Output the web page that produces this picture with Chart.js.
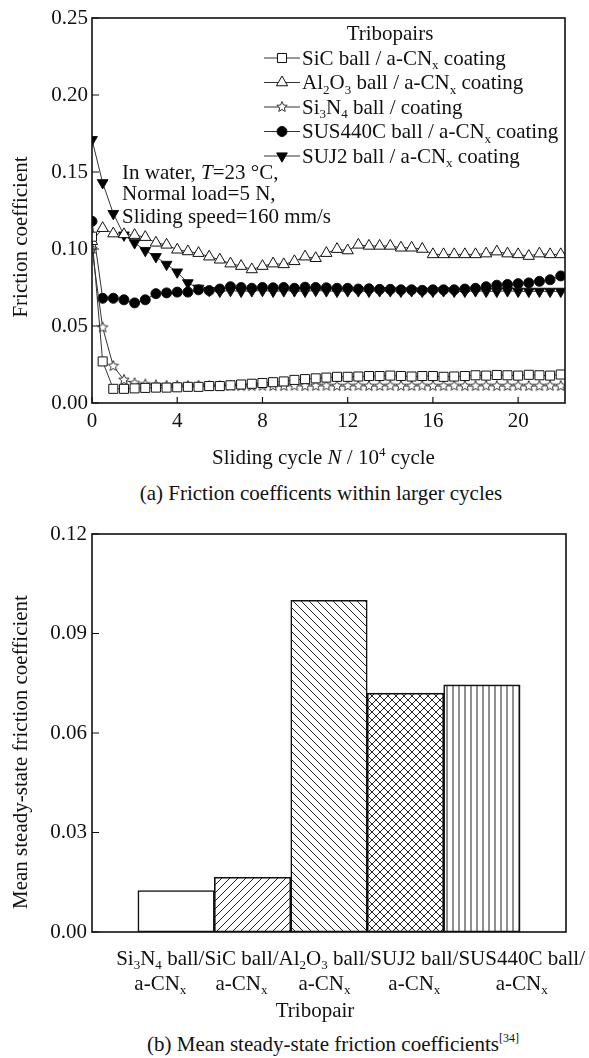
<!DOCTYPE html>
<html>
<head>
<meta charset="utf-8">
<script src="https://cdn.jsdelivr.net/npm/chart.js@4.4.1/dist/chart.umd.min.js"></script>
<style>
  html, body { margin: 0; padding: 0; background: #fff; }
  body { width: 589px; height: 1058px; position: relative; overflow: hidden;
         font-family: "Liberation Serif", "Times New Roman", serif; color: #111; }
  .wrap { position: absolute; left: 0; }
  .cap { position: absolute; left: 0; text-align: center; font-size: 21px; line-height: 24px; white-space: nowrap; }
  .cap sup { font-size: 12px; line-height: 0; vertical-align: 0; position: relative; top: -9px; }
</style>
</head>
<body>
<div class="wrap" style="top:0"><canvas id="fric" width="589" height="470"></canvas></div>
<div class="cap" style="top:481px;width:642px">(a) Friction coefficents within larger cycles</div>
<div class="wrap" style="top:500px"><canvas id="mean" width="589" height="530"></canvas></div>
<div class="cap" style="top:1032px;width:666px">(b) Mean steady-state friction coefficients<sup>[34]</sup></div>

<script>
// ---- (a) friction coefficient vs sliding cycle (x in 10^4 cycles) ----
const cycles = [0, 0.5, 1, 1.5, 2, 2.5, 3, 3.5, 4, 4.5, 5, 5.5, 6, 6.5, 7, 7.5, 8, 8.5, 9, 9.5, 10, 10.5,
                11, 11.5, 12, 12.5, 13, 13.5, 14, 14.5, 15, 15.5, 16, 16.5, 17, 17.5, 18, 18.5, 19, 19.5,
                20, 20.5, 21, 21.5, 22];

const muSiC = [0.108, 0.027, 0.0092, 0.0092, 0.0095, 0.0098, 0.010, 0.010, 0.0102, 0.0105, 0.0105, 0.011,
               0.011, 0.0115, 0.012, 0.0125, 0.013, 0.0135, 0.014, 0.015, 0.0155, 0.016, 0.0165, 0.017,
               0.017, 0.0172, 0.0175, 0.0175, 0.0178, 0.0175, 0.0172, 0.0175, 0.0175, 0.017, 0.0172, 0.0175,
               0.018, 0.0178, 0.0182, 0.018, 0.0178, 0.0183, 0.018, 0.0178, 0.0185];
const muAl2O3 = [0.105, 0.1135, 0.110, 0.1095, 0.109, 0.1077, 0.104, 0.1027, 0.0995, 0.0984, 0.0973, 0.095,
                 0.093, 0.0905, 0.0889, 0.0867, 0.0889, 0.0905, 0.090, 0.092, 0.095, 0.094, 0.0973, 0.0999,
                 0.099, 0.1027, 0.102, 0.102, 0.102, 0.1008, 0.1008, 0.100, 0.0965, 0.0965, 0.0965, 0.0965,
                 0.0965, 0.097, 0.0983, 0.097, 0.0965, 0.0954, 0.097, 0.0965, 0.0965];
const muSi3N4 = [0.100, 0.049, 0.024, 0.015, 0.0128, 0.012, 0.0115, 0.0112, 0.0112, 0.011, 0.0112, 0.011,
                 0.011, 0.0112, 0.011, 0.011, 0.0112, 0.011, 0.011, 0.0112, 0.011, 0.011, 0.0112, 0.011,
                 0.011, 0.0112, 0.011, 0.011, 0.0112, 0.011, 0.011, 0.0112, 0.011, 0.011, 0.0112, 0.011,
                 0.011, 0.0112, 0.011, 0.011, 0.0112, 0.011, 0.011, 0.0112, 0.011];
const muSUS440C = [0.118, 0.068, 0.068, 0.067, 0.065, 0.067, 0.071, 0.0715, 0.072, 0.072, 0.0735, 0.073,
                   0.074, 0.0755, 0.075, 0.0745, 0.075, 0.0748, 0.075, 0.0745, 0.0752, 0.075, 0.0748, 0.0745,
                   0.0745, 0.074, 0.0742, 0.0738, 0.0738, 0.0735, 0.0735, 0.0732, 0.0735, 0.0735, 0.0735, 0.074,
                   0.0745, 0.0755, 0.0765, 0.077, 0.0775, 0.078, 0.079, 0.080, 0.0825];
const muSUJ2 = [0.171, 0.143, 0.123, 0.109, 0.104, 0.099, 0.095, 0.090, 0.085, 0.078, 0.0745, 0.073,
                0.0725, 0.073, 0.0725, 0.0728, 0.073, 0.0725, 0.0728, 0.0728, 0.0725, 0.073, 0.0728, 0.0725,
                0.0728, 0.0728, 0.0725, 0.0728, 0.0728, 0.0725, 0.0728, 0.0725, 0.0725, 0.0728, 0.0725, 0.0725,
                0.0728, 0.0725, 0.0725, 0.0728, 0.0725, 0.0725, 0.0725, 0.0725, 0.0725];

const pairNames = ['SiC ball / a-CN_x coating', 'Al_2O_3 ball / a-CN_x coating', 'Si_3N_4 ball / coating',
                   'SUS440C ball / a-CN_x coating', 'SUJ2 ball / a-CN_x coating'];
const cycleTicks = [0, 4, 8, 12, 16, 20];
const muTicks = [0, 0.05, 0.10, 0.15, 0.20, 0.25];

// ---- (b) mean steady-state friction coefficient ----
const barPairs = ['Si_3N_4 ball/', 'SiC ball/', 'Al_2O_3 ball/', 'SUJ2 ball/', 'SUS440C ball/'];
const barCoating = 'a-CN_x';
const meanMu = [0.0125, 0.0165, 0.100, 0.072, 0.0745];
const meanTicks = [0, 0.03, 0.06, 0.09, 0.12];

const SERIF = '"Liberation Serif", "Times New Roman", serif';
const FS = 21;
const INK = '#111';

// tiny rich-text: _c subscript, ^c superscript (one char), ~ toggles italic
function parseRich(s) {
  const out = [];
  let italic = false, buf = '';
  const flush = () => { if (buf) { out.push({ t: buf, italic, pos: 0 }); buf = ''; } };
  for (let i = 0; i < s.length; i++) {
    const c = s[i];
    if (c === '~') { flush(); italic = !italic; }
    else if ((c === '_' || c === '^') && i + 1 < s.length) { flush(); out.push({ t: s[++i], italic, pos: c === '_' ? 1 : -1 }); }
    else buf += c;
  }
  flush();
  return out;
}
function segFont(seg, size) {
  return (seg.italic ? 'italic ' : '') + (seg.pos ? size * 0.62 : size) + 'px ' + SERIF;
}
function richWidth(ctx, s, size = FS) {
  let w = 0;
  for (const seg of parseRich(s)) { ctx.font = segFont(seg, size); w += ctx.measureText(seg.t).width; }
  return w;
}
function drawRich(ctx, s, x, y, align = 'left', size = FS) {
  const w = richWidth(ctx, s, size);
  let cx = align === 'center' ? x - w / 2 : align === 'right' ? x - w : x;
  const base = y + size * 0.33;
  ctx.save();
  ctx.fillStyle = INK;
  ctx.textAlign = 'left';
  ctx.textBaseline = 'alphabetic';
  for (const seg of parseRich(s)) {
    ctx.font = segFont(seg, size);
    const dy = seg.pos === 1 ? size * 0.2 : seg.pos === -1 ? -size * 0.4 : 0;
    ctx.fillText(seg.t, cx, base + dy);
    cx += ctx.measureText(seg.t).width;
  }
  ctx.restore();
}
function drawVertical(ctx, text, x, y) {
  ctx.save();
  ctx.translate(x, y);
  ctx.rotate(-Math.PI / 2);
  ctx.font = FS + 'px ' + SERIF;
  ctx.fillStyle = INK;
  ctx.textAlign = 'center';
  ctx.textBaseline = 'middle';
  ctx.fillText(text, 0, 0);
  ctx.restore();
}

// box frame + inward ticks
const frameTicks = {
  id: 'frameTicks',
  afterDraw(chart, args, opts) {
    const { ctx, chartArea: a, scales } = chart;
    ctx.save();
    ctx.strokeStyle = INK;
    ctx.lineWidth = 1.6;
    ctx.strokeRect(a.left, a.top, a.right - a.left, a.bottom - a.top);
    ctx.lineWidth = 1.2;
    ctx.beginPath();
    for (const t of scales.y.ticks) {
      const y = scales.y.getPixelForValue(t.value);
      ctx.moveTo(a.left, y); ctx.lineTo(a.left + 7, y);
    }
    if (opts.xTicks) {
      for (const t of scales.x.ticks) {
        const x = scales.x.getPixelForValue(t.value);
        ctx.moveTo(x, a.bottom); ctx.lineTo(x, a.bottom - 6);
      }
    }
    ctx.stroke();
    ctx.restore();
  }
};

function starImage(r) {
  const s = Math.ceil(r * 2 + 3);
  const c = document.createElement('canvas');
  c.width = c.height = s;
  const g = c.getContext('2d');
  g.beginPath();
  for (let k = 0; k < 10; k++) {
    const rr = k % 2 ? r * 0.45 : r;
    const ang = -Math.PI / 2 + k * Math.PI / 5;
    g.lineTo(s / 2 + rr * Math.cos(ang), s / 2 + rr * Math.sin(ang));
  }
  g.closePath();
  g.fillStyle = '#fff'; g.fill();
  g.lineWidth = 1; g.strokeStyle = '#333'; g.stroke();
  return c;
}

const tickFont = { family: SERIF, size: FS };
const lineMarkers = [
  { pointStyle: 'rect', rotation: 0, radius: 6.4, fill: '#fff' },
  { pointStyle: 'triangle', rotation: 0, radius: 6.5, fill: '#fff' },
  { pointStyle: starImage(5.5), rotation: 0, radius: 5, fill: '#fff' },
  { pointStyle: 'circle', rotation: 0, radius: 5, fill: '#000' },
  { pointStyle: 'triangle', rotation: 180, radius: 6.2, fill: '#000' },
];
const seriesA = [muSiC, muAl2O3, muSi3N4, muSUS440C, muSUJ2];

new Chart(document.getElementById('fric'), {
  type: 'line',
  data: {
    datasets: seriesA.map((vals, i) => ({
      label: pairNames[i],
      data: cycles.map((c, j) => ({ x: c, y: vals[j] })),
      borderColor: '#333',
      borderWidth: 1,
      tension: 0,
      pointStyle: lineMarkers[i].pointStyle,
      rotation: lineMarkers[i].rotation,
      pointRadius: lineMarkers[i].radius,
      pointBackgroundColor: lineMarkers[i].fill,
      pointBorderColor: '#111',
      pointBorderWidth: 1,
    })),
  },
  options: {
    responsive: false, animation: false, events: [],
    layout: { padding: { top: 18, right: 24, left: 0, bottom: 0 }, autoPadding: false },
    plugins: { legend: { display: false }, tooltip: { enabled: false }, frameTicks: { xTicks: true } },
    scales: {
      x: {
        type: 'linear', min: 0, max: 22.2,
        afterBuildTicks: s => { s.ticks = cycleTicks.map(v => ({ value: v })); },
        afterFit: s => { s.height = 67; },
        grid: { display: false, drawTicks: false }, border: { display: false },
        ticks: { font: tickFont, color: INK, padding: 6, maxRotation: 0, callback: v => String(v) },
      },
      y: {
        min: 0, max: 0.25,
        afterBuildTicks: s => { s.ticks = muTicks.map(v => ({ value: v })); },
        afterFit: s => { s.width = 92; },
        grid: { display: false, drawTicks: false }, border: { display: false },
        ticks: { font: tickFont, color: INK, padding: 4, callback: v => v.toFixed(2) },
      },
    },
  },
  plugins: [frameTicks, {
    id: 'decorA',
    afterDraw(chart) {
      const { ctx, chartArea: a } = chart;
      const midX = (a.left + a.right) / 2;
      drawRich(ctx, 'Sliding cycle ~N~ / 10^4 cycle', midX - 5, 457, 'center');
      drawVertical(ctx, 'Friction coefficient', 21, 237);
      drawRich(ctx, 'In water, ~T~=23 °C,', a.left + 30, a.top + 154);
      drawRich(ctx, 'Normal load=5 N,', a.left + 30, a.top + 175.5);
      drawRich(ctx, 'Sliding speed=160 mm/s', a.left + 30, a.top + 198);
      // legend
      drawRich(ctx, 'Tribopairs', a.right - 175, a.top + 15, 'center');
      chart.data.datasets.forEach((ds, i) => {
        const y = a.top + 40 + i * 24.5;
        ctx.save();
        ctx.strokeStyle = '#333'; ctx.lineWidth = 1;
        ctx.beginPath(); ctx.moveTo(a.right - 301, y); ctx.lineTo(a.right - 265, y); ctx.stroke();
        ctx.fillStyle = lineMarkers[i].fill; ctx.strokeStyle = '#111';
        Chart.helpers.drawPoint(ctx, {
          pointStyle: lineMarkers[i].pointStyle, rotation: lineMarkers[i].rotation,
          radius: lineMarkers[i].radius, borderWidth: 1,
        }, a.right - 283, y);
        ctx.restore();
        drawRich(ctx, ds.label, a.right - 263, y);
      });
    }
  }],
});

// ---- hatched bars ----
const meanCanvas = document.getElementById('mean');
function hatch(kind) {
  const s = kind === 'vert' ? 6 : 8;
  const c = document.createElement('canvas');
  c.width = c.height = s;
  const g = c.getContext('2d');
  g.fillStyle = '#fff'; g.fillRect(0, 0, s, s);
  g.strokeStyle = '#222'; g.lineWidth = 1;
  g.beginPath();
  if (kind === 'fwd' || kind === 'cross') {
    g.moveTo(-1, s + 1); g.lineTo(s + 1, -1);
    g.moveTo(-1, 1); g.lineTo(1, -1);
    g.moveTo(s - 1, s + 1); g.lineTo(s + 1, s - 1);
  }
  if (kind === 'back' || kind === 'cross') {
    g.moveTo(-1, -1); g.lineTo(s + 1, s + 1);
    g.moveTo(s - 1, -1); g.lineTo(s + 1, 1);
    g.moveTo(-1, s - 1); g.lineTo(1, s + 1);
  }
  if (kind === 'vert') { g.moveTo(s / 2, 0); g.lineTo(s / 2, s); }
  g.stroke();
  return meanCanvas.getContext('2d').createPattern(c, 'repeat');
}
const barFills = ['#fff', hatch('fwd'), hatch('back'), hatch('cross'), hatch('vert')];

new Chart(meanCanvas, {
  type: 'bar',
  data: {
    datasets: [{
      data: meanMu.map((v, i) => ({ x: i + 1, y: v })),
      backgroundColor: barFills,
      borderColor: INK,
      borderWidth: 1.6,
      borderSkipped: false,
      barPercentage: 1,
      categoryPercentage: 1,
    }],
  },
  options: {
    responsive: false, animation: false, events: [],
    layout: { padding: { top: 34, right: 23, left: 0, bottom: 0 }, autoPadding: false },
    plugins: { legend: { display: false }, tooltip: { enabled: false }, frameTicks: { xTicks: false } },
    scales: {
      x: {
        type: 'linear', min: -0.1, max: 6.1, offset: false,
        afterFit: s => { s.height = 98; },
        grid: { display: false, drawTicks: false }, border: { display: false },
        ticks: { display: false },
      },
      y: {
        min: 0, max: 0.12,
        afterBuildTicks: s => { s.ticks = meanTicks.map(v => ({ value: v })); },
        afterFit: s => { s.width = 92; },
        grid: { display: false, drawTicks: false }, border: { display: false },
        ticks: { font: tickFont, color: INK, padding: 5, callback: v => v.toFixed(2) },
      },
    },
  },
  plugins: [frameTicks, {
    id: 'decorB',
    afterDraw(chart) {
      const { ctx, chartArea: a } = chart;
      drawVertical(ctx, 'Mean steady-state friction coefficient', 21, 252);
      // category labels: a contiguous row ending near the right edge, second line under each
      const widths = barPairs.map(s => richWidth(ctx, s));
      const total = widths.reduce((p, w) => p + w, 0);
      let x = chart.width - 4 - total;
      barPairs.forEach((s, i) => {
        const cx = x + widths[i] / 2;
        drawRich(ctx, s, cx, a.bottom + 26, 'center');
        drawRich(ctx, barCoating, cx, a.bottom + 51, 'center');
        x += widths[i];
      });
      drawRich(ctx, 'Tribopair', (a.left + a.right) / 2 - 14, a.bottom + 78, 'center');
    }
  }],
});
</script>
</body>
</html>
